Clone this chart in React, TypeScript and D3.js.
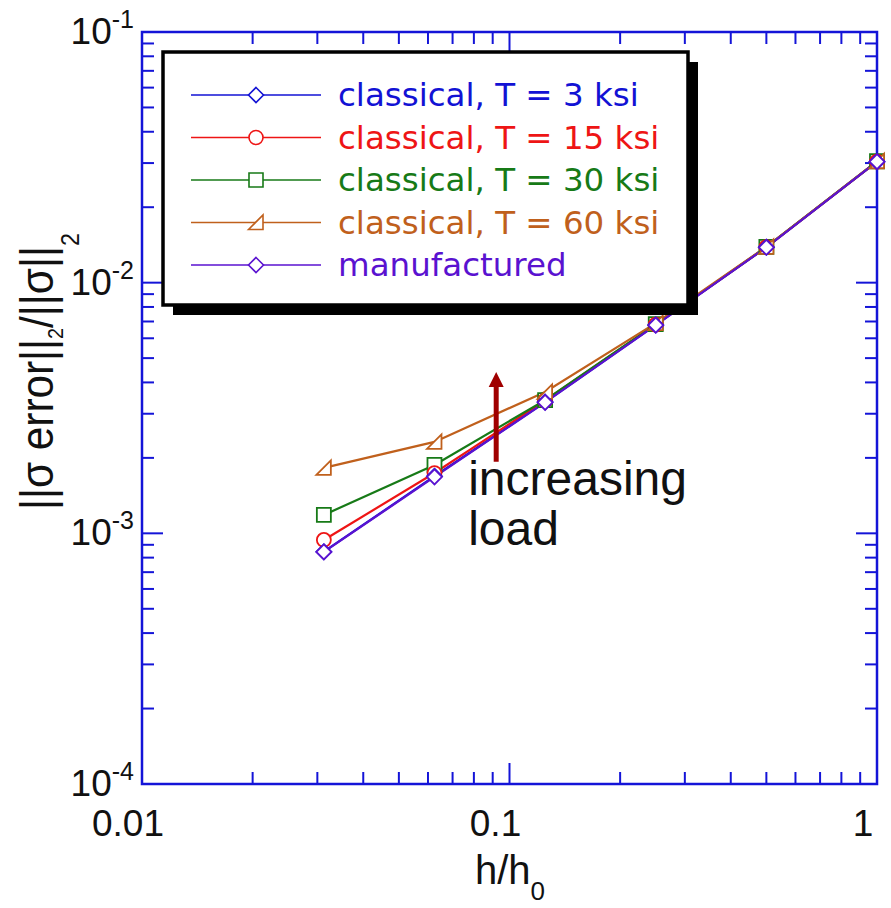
import React from 'react';
import * as d3 from 'd3';

// ---------- data ----------
const hValues = [0.03125, 0.0625, 0.125, 0.25, 0.5, 1];
const classicalT3 = [0.000845, 0.00169, 0.00334, 0.00678, 0.01385, 0.0304];
const classicalT15 = [0.000941, 0.00174, 0.00339, 0.0068, 0.01385, 0.0304];
const classicalT30 = [0.001184, 0.001874, 0.0034, 0.00683, 0.01388, 0.0305];
const classicalT60 = [0.001824, 0.002316, 0.003664, 0.0069, 0.0139, 0.0305];
const manufactured = [0.000843, 0.00168, 0.00333, 0.00677, 0.01384, 0.0304];

const seriesLabels = [
  'classical, T = 3 ksi',
  'classical, T = 15 ksi',
  'classical, T = 30 ksi',
  'classical, T = 60 ksi',
  'manufactured',
];
const seriesColors = ['#1212d4', '#ee1515', '#177a17', '#c0601c', '#5a12d0'];
const seriesShapes = ['diamond', 'circle', 'square', 'triangle', 'diamond'];
const seriesValues = [classicalT3, classicalT15, classicalT30, classicalT60, manufactured];

const xTickValues = [0.01, 0.1, 1];
const xTickLabels = ['0.01', '0.1', '1'];
const yTickExponents = [-4, -3, -2, -1];

const xTitle = 'h/h';
const xTitleSub = '0';

// annotation (data coordinates)
const arrowX = 0.092;
const arrowFrom = 0.00193;
const arrowTo = 0.0044;
const noteX = 0.0772;
const noteLines = ['increasing', 'load'];
const noteY = [0.00142, 0.000895];

// ---------- layout ----------
const W = 891;
const H = 908;
const L = 142;
const R = 877;
const T = 32;
const B = 784;
const AXIS = '#1414d8';

const x = d3.scaleLog().domain([0.01, 1]).range([L, R]);
const y = d3.scaleLog().domain([1e-4, 1e-1]).range([B, T]);

function markerPath(shape: string): string {
  if (shape === 'diamond') return 'M0,-7.5L7.5,0L0,7.5L-7.5,0Z';
  if (shape === 'square') return 'M-7,-7H7V7H-7Z';
  if (shape === 'triangle') return 'M-7.5,7L7,-7.5L7,7Z';
  return 'M7,0A7,7 0 1,1 -7,0A7,7 0 1,1 7,0Z';
}

function minorTicks(lo: number, hi: number): { v: number; major: boolean }[] {
  const out: { v: number; major: boolean }[] = [];
  for (let e = Math.round(Math.log10(lo)); e < Math.round(Math.log10(hi)); e++) {
    for (let k = 1; k < 10; k++) out.push({ v: k * Math.pow(10, e), major: k === 1 });
  }
  out.push({ v: hi, major: true });
  return out;
}

export default function App() {
  const line = d3
    .line<number>()
    .x((_, i) => x(hValues[i]))
    .y((d) => y(d));

  const xt = minorTicks(0.01, 1);
  const yt = minorTicks(1e-4, 1e-1);
  const MAJ = 21;
  const MIN = 12;

  const drawOrder = [2, 1, 3, 0, 4];

  const legendX = 163;
  const legendY = 52;
  const legendW = 525;
  const legendH = 253;
  const rowY = (i: number) => 95 + i * 42.5;

  return (
    <svg
      width={W}
      height={H}
      style={{ position: 'absolute', left: 0, top: 0, background: '#fff' }}
      fontFamily="'Liberation Sans', Arial, sans-serif"
    >
      <rect x={0} y={0} width={W} height={H} fill="#fff" />

      {/* ticks */}
      <g stroke={AXIS} strokeWidth={2}>
        {xt.map((t, i) => (
          <g key={'xt' + i}>
            <line x1={x(t.v)} x2={x(t.v)} y1={B} y2={B - (t.major ? MAJ : MIN)} />
            <line x1={x(t.v)} x2={x(t.v)} y1={T} y2={T + (t.major ? MAJ : MIN)} />
          </g>
        ))}
        {yt.map((t, i) => (
          <g key={'yt' + i}>
            <line x1={L} x2={L + (t.major ? MAJ : MIN)} y1={y(t.v)} y2={y(t.v)} />
            <line x1={R} x2={R - (t.major ? MAJ : MIN)} y1={y(t.v)} y2={y(t.v)} />
          </g>
        ))}
      </g>
      <rect x={L} y={T} width={R - L} height={B - T} fill="none" stroke={AXIS} strokeWidth={2.5} />

      {/* tick labels */}
      {xTickValues.map((v, i) => (
        <text key={'xl' + i} x={x(v) - 14} y={836} fontSize={37} textAnchor="middle" fill="#111">
          {xTickLabels[i]}
        </text>
      ))}
      {yTickExponents.map((e) => (
        <text key={'yl' + e} x={134} y={y(Math.pow(10, e)) + 12} fontSize={37} textAnchor="end" fill="#111">
          10
          <tspan dy={-16} fontSize={25}>
            {String(e)}
          </tspan>
        </text>
      ))}

      {/* axis titles */}
      <text x={475} y={884} fontSize={40} fill="#111">
        {xTitle}
        <tspan dy={16} fontSize={26}>
          {xTitleSub}
        </tspan>
      </text>
      <text transform="translate(53,510) rotate(-90) scale(0.9,1)" fontSize={47} fill="#111">
        ||σ error||
        <tspan dy={10} fontSize={22}>2</tspan>
        <tspan dy={-10}>/||σ||</tspan>
        <tspan dy={26} fontSize={26}>2</tspan>
      </text>

      {/* series lines */}
      {seriesValues.map((vals, si) => (
        <path key={'ln' + si} d={line(vals) || ''} fill="none" stroke={seriesColors[si]} strokeWidth={2.2} />
      ))}
      {/* markers */}
      {drawOrder.map((si) =>
        seriesValues[si].map((v, i) => (
          <path
            key={'mk' + si + '-' + i}
            d={markerPath(seriesShapes[si])}
            transform={`translate(${x(hValues[i])},${y(v)})`}
            fill="#fff"
            stroke={seriesColors[si]}
            strokeWidth={1.8}
          />
        ))
      )}

      {/* annotation */}
      <line
        x1={x(arrowX)}
        x2={x(arrowX)}
        y1={y(arrowFrom)}
        y2={y(arrowTo) + 14}
        stroke="#a00000"
        strokeWidth={5}
      />
      <path
        d={`M${x(arrowX) - 7.5},${y(arrowTo) + 15}L${x(arrowX) + 7.5},${y(arrowTo) + 15}L${x(arrowX)},${y(arrowTo)}Z`}
        fill="#a00000"
      />
      {noteLines.map((s, i) => (
        <text key={'note' + i} x={x(noteX)} y={y(noteY[i])} fontSize={48} fill="#111">
          {s}
        </text>
      ))}

      {/* legend */}
      <rect x={legendX + 10} y={legendY + 10} width={legendW} height={legendH} fill="#000" />
      <rect x={legendX} y={legendY} width={legendW} height={legendH} fill="#fff" stroke="#000" strokeWidth={3.5} />
      {seriesLabels.map((lab, i) => (
        <g key={'lg' + i}>
          <line x1={191} x2={321} y1={rowY(i)} y2={rowY(i)} stroke={seriesColors[i]} strokeWidth={1.3} />
          <path
            d={markerPath(seriesShapes[i])}
            transform={`translate(256,${rowY(i)})`}
            fill="#fff"
            stroke={seriesColors[i]}
            strokeWidth={1.6}
          />
          <text x={338} y={rowY(i) + 11} fontSize={32.5} fontFamily="'DejaVu Sans', sans-serif" fill={seriesColors[i]}>
            {lab}
          </text>
        </g>
      ))}
    </svg>
  );
}
